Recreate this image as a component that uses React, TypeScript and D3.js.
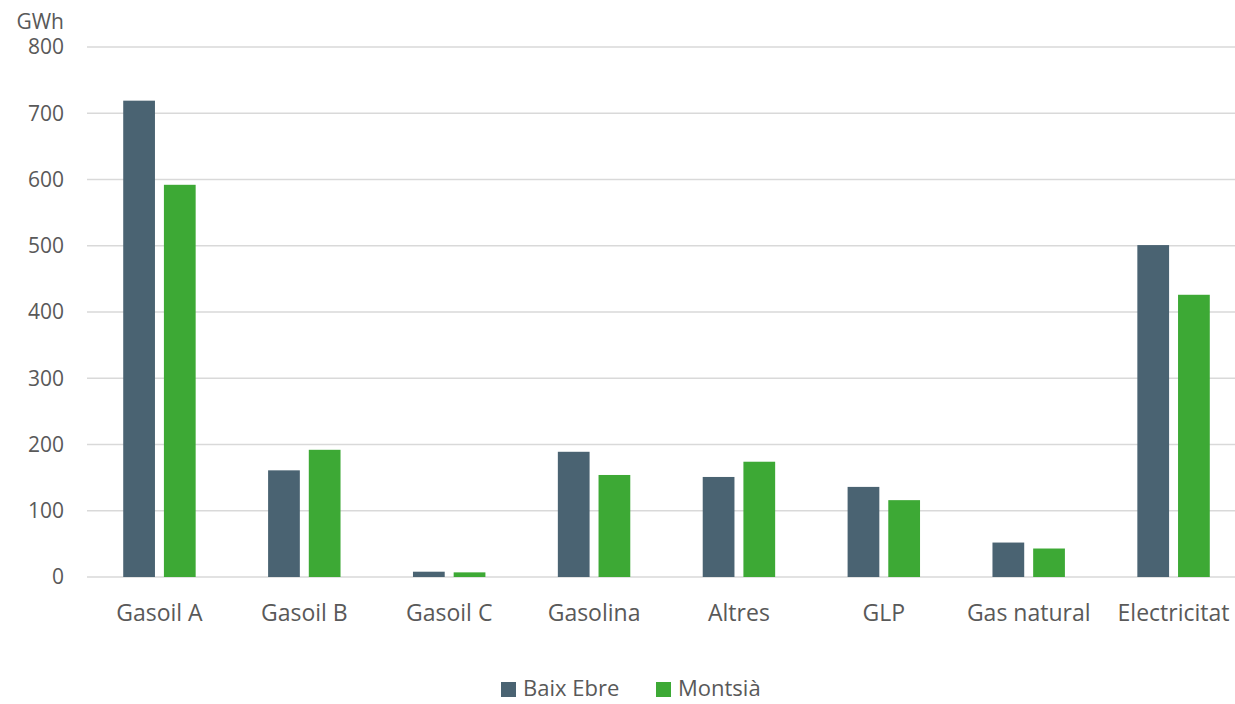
import { useEffect, useRef } from 'react';
import * as d3 from 'd3';

// Energy use by fuel, GWh
const categories = ['Gasoil A', 'Gasoil B', 'Gasoil C', 'Gasolina', 'Altres', 'GLP', 'Gas natural', 'Electricitat'];
const baixEbre = [719, 161, 8, 189, 151, 136, 52, 501];
const montsia = [592, 192, 7, 154, 174, 116, 43, 426];
const seriesNames = ['Baix Ebre', 'Montsià'];
const yTicks = [0, 100, 200, 300, 400, 500, 600, 700, 800];

const colors = ['#4a6372', '#3da935'];
const font = '"Open Sans", "Noto Sans", sans-serif';

export default function App() {
  const svgRef = useRef<SVGSVGElement>(null);

  useEffect(() => {
    const width = 1235;
    const svg = d3.select(svgRef.current);
    svg.selectAll('*').remove();

    const x = d3.scaleBand<string>()
      .domain(categories)
      .range([87, 1246])
      .paddingInner(0.5)
      .paddingOuter(0.25);

    const xInner = d3.scaleBand<string>()
      .domain(seriesNames)
      .range([0, x.bandwidth()])
      .paddingInner(0.22);

    const y = d3.scaleLinear().domain([0, 800]).range([577, 47]);

    // Gridlines
    svg.append('g')
      .selectAll('line')
      .data(yTicks)
      .enter()
      .append('line')
      .attr('x1', 87)
      .attr('x2', width)
      .attr('y1', d => y(d))
      .attr('y2', d => y(d))
      .attr('stroke', '#d9d9d9')
      .attr('stroke-width', 1.5);

    // Y tick labels
    svg.append('g')
      .selectAll('text')
      .data(yTicks)
      .enter()
      .append('text')
      .attr('x', 64)
      .attr('y', d => y(d))
      .attr('dy', '0.35em')
      .attr('text-anchor', 'end')
      .attr('font-family', font)
      .attr('font-size', 21)
      .attr('fill', '#595959')
      .text(d => d);

    svg.append('text')
      .attr('x', 64)
      .attr('y', 29)
      .attr('text-anchor', 'end')
      .attr('font-family', font)
      .attr('font-size', 21)
      .attr('fill', '#595959')
      .text('GWh');

    // Bars
    const data = [baixEbre, montsia];
    data.forEach((values, si) => {
      svg.append('g')
        .selectAll('rect')
        .data(values)
        .enter()
        .append('rect')
        .attr('x', (d, i) => (x(categories[i]) as number) + (xInner(seriesNames[si]) as number))
        .attr('y', d => y(d))
        .attr('width', xInner.bandwidth())
        .attr('height', d => y(0) - y(d))
        .attr('fill', colors[si]);
    });

    // Category labels
    svg.append('g')
      .selectAll('text')
      .data(categories)
      .enter()
      .append('text')
      .attr('x', d => (x(d) as number) + x.bandwidth() / 2)
      .attr('y', 621)
      .attr('text-anchor', 'middle')
      .attr('font-family', font)
      .attr('font-size', 23)
      .attr('fill', '#595959')
      .text(d => d);

    // Legend
    const legendX = [501, 656];
    const legend = svg.append('g');
    seriesNames.forEach((name, i) => {
      legend.append('rect')
        .attr('x', legendX[i])
        .attr('y', 682)
        .attr('width', 15)
        .attr('height', 15)
        .attr('fill', colors[i]);
      legend.append('text')
        .attr('x', legendX[i] + 22)
        .attr('y', 696)
        .attr('font-family', font)
        .attr('font-size', 22)
        .attr('fill', '#595959')
        .text(name);
    });
  }, []);

  return (
    <svg
      ref={svgRef}
      width={1235}
      height={704}
      style={{ position: 'absolute', left: 0, top: 0, background: '#fff' }}
    />
  );
}
